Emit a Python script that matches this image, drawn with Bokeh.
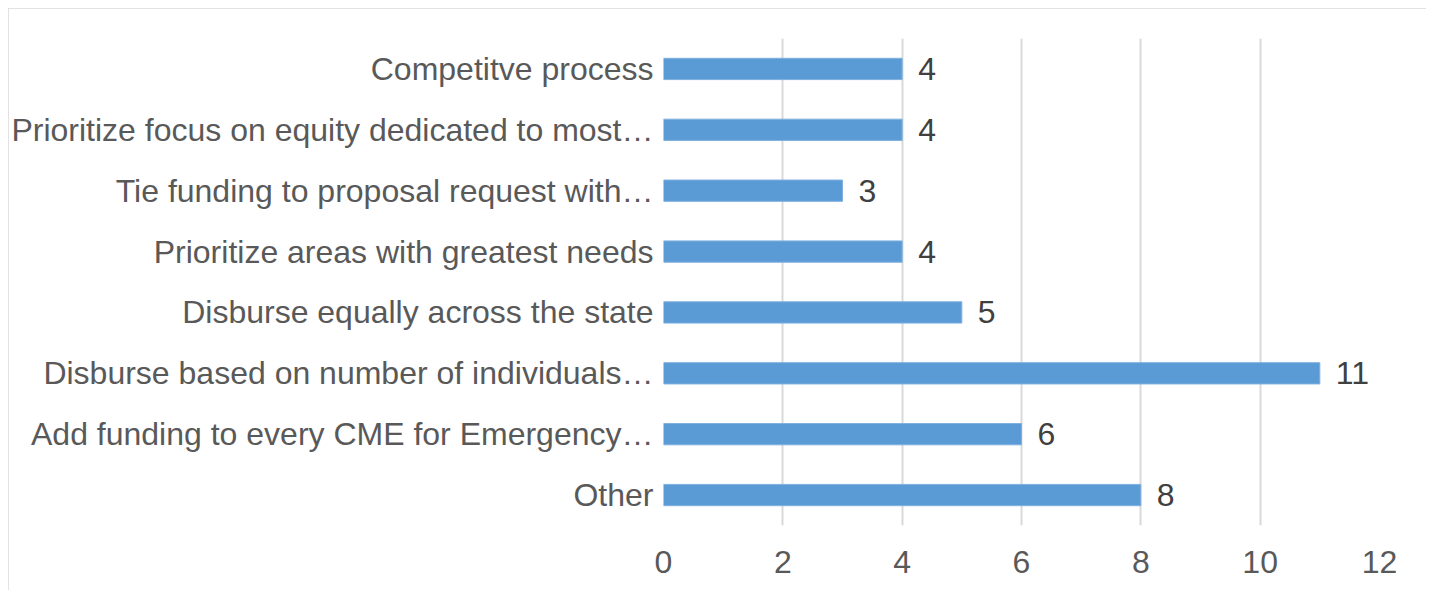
from bokeh.plotting import figure
from bokeh.models import ColumnDataSource, Range1d, FactorRange, LabelSet, FixedTicker
from bokeh.core.properties import value
from bokeh.embed import file_html
from bokeh.resources import INLINE

categories = [
    "Competitve process",
    "Prioritize focus on equity dedicated to most…",
    "Tie funding to proposal request with…",
    "Prioritize areas with greatest needs",
    "Disburse equally across the state",
    "Disburse based on number of individuals…",
    "Add funding to every CME for Emergency…",
    "Other",
]
values = [4, 4, 3, 4, 5, 11, 6, 8]
x_ticks = [0, 2, 4, 6, 8, 10, 12]

FONT = "Liberation Sans"
LABEL_COLOR = "#595959"

source = ColumnDataSource(dict(
    cat=categories,
    val=values,
    txt=[str(v) for v in values],
))

p = figure(
    width=1418, height=582,
    y_range=FactorRange(*reversed(categories)),
    x_range=Range1d(0, 12),
    output_backend="svg", toolbar_location=None,
    min_border_left=655, min_border_right=47, min_border_top=30, min_border_bottom=65,
)
p.styles = {"margin": "8px 0 0 8px", "outline": "2px solid #d9d9d9", "outline-offset": "-2px"}
p.outline_line_color = None

p.hbar(y="cat", right="val", left=0, height=0.35, source=source,
       fill_color="#5b9bd5", line_color="#7fb0e0", line_width=1)

p.add_layout(LabelSet(x="val", y="cat", text="txt", source=source, x_offset=16,
                      text_align="left", text_baseline="middle",
                      text_font=value(FONT), text_font_size="32px", text_color="#404040"))

p.yaxis.axis_line_color = None
p.yaxis.major_tick_line_color = None
p.yaxis.minor_tick_line_color = None
p.yaxis.major_label_text_font = FONT
p.yaxis.major_label_text_font_size = "32px"
p.yaxis.major_label_text_color = LABEL_COLOR
p.yaxis.major_label_standoff = 4
p.ygrid.grid_line_color = None

p.xaxis.ticker = FixedTicker(ticks=x_ticks)
p.xaxis.axis_line_color = None
p.xaxis.major_tick_line_color = None
p.xaxis.minor_tick_line_color = None
p.xaxis.major_label_text_font = FONT
p.xaxis.major_label_text_font_size = "32px"
p.xaxis.major_label_text_color = LABEL_COLOR
p.xaxis.major_label_standoff = 19

p.xgrid.ticker = FixedTicker(ticks=x_ticks)
p.xgrid.grid_line_color = "#d9d9d9"
p.xgrid.grid_line_width = 2

open("out.html", "w").write(file_html(p, INLINE))
